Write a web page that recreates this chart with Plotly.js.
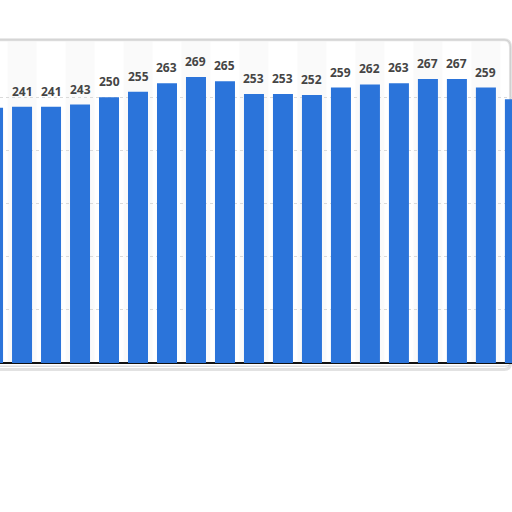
<!DOCTYPE html>
<html>
<head>
<meta charset="utf-8">
<script src="https://cdn.plot.ly/plotly-3.0.1.min.js"></script>
<style>
html, body { margin: 0; padding: 0; background: #ffffff; }
#chart { width: 512px; height: 512px; }
</style>
</head>
<body>
<div id="chart"></div>
<script>
// values, left to right (first and last bars are cut off)
var values = [240, 241, 241, 243, 250, 255, 263, 269, 265, 253, 253, 252, 259, 262, 263, 267, 267, 259, 248];
var labels = ['240', '241', '241', '243', '250', '255', '263', '269', '265', '253', '253', '252', '259', '262', '263', '267', '267', '259', '248'];
var gridValues = [50, 100, 150, 200, 250];

var positions = values.map(function(v, i) { return i; });

var bars =
{
    type: 'bar',
    x: positions,
    y: values,
    marker:
    {
        color: '#2b74da',
        line: { width: 0 }
    },
    hoverinfo: 'x+y'
};

// value labels floating above each bar
var annotations = positions.map(function(i) {
    return {
        xref: 'x',
        yref: 'y',
        x: i,
        y: values[i],
        text: labels[i],
        showarrow: false,
        yanchor: 'bottom',
        yshift: 5,
        font:
        {
            family: 'Open Sans, Arial, sans-serif',
            size: 12,
            color: '#454545',
            weight: 'bold'
        }
    };
});

// alternating light column bands behind the bars
var shapes = [];
positions.forEach(function(i) {
    if (i % 2 === 1) {
        shapes.push({
            type: 'rect',
            xref: 'x',
            yref: 'paper',
            x0: i - 0.5,
            x1: i + 0.5,
            y0: 0,
            y1: 1.008,
            fillcolor: '#fafafa',
            line: { width: 0 },
            layer: 'below'
        });
    }
});

// card frame with rounded corners and a soft shadow
shapes.push({
    type: 'path',
    xref: 'paper',
    yref: 'paper',
    path: 'M -0.01,-0.02 L 0.985,-0.02 Q 0.997,-0.02 0.997,0.0 L 0.997,0.99 Q 0.997,1.013 0.985,1.013 L -0.01,1.013 Z',
    line: { color: '#e2e2e2', width: 3 },
    layer: 'below'
});
shapes.push({
    type: 'path',
    xref: 'paper',
    yref: 'paper',
    path: 'M -0.01,-0.01 L 0.985,-0.01 Q 0.997,-0.01 0.997,0.0 L 0.997,0.99 Q 0.997,1.013 0.985,1.013 L -0.01,1.013 Z',
    line: { color: '#cfcfcf', width: 1 },
    layer: 'below'
});

var layout =
{
    width: 512,
    height: 512,
    margin: { l: 0, r: 0, t: 44, b: 149 },
    paper_bgcolor: '#ffffff',
    plot_bgcolor: 'rgba(0,0,0,0)',
    showlegend: false,
    bargap: 0.31,
    xaxis:
    {
        range: [0.24, 17.9],
        showticklabels: false,
        ticks: '',
        showgrid: false,
        zeroline: false,
        showline: false
    },
    yaxis:
    {
        range: [0, 300],
        tickvals: gridValues,
        showticklabels: false,
        ticks: '',
        showgrid: true,
        gridcolor: '#dadada',
        griddash: 'dot',
        gridwidth: 1,
        zeroline: true,
        zerolinecolor: '#111111',
        zerolinewidth: 1.5,
        showline: false
    },
    annotations: annotations,
    shapes: shapes
};

Plotly.newPlot('chart', [bars], layout, { displayModeBar: false, staticPlot: true });
</script>
</body>
</html>
